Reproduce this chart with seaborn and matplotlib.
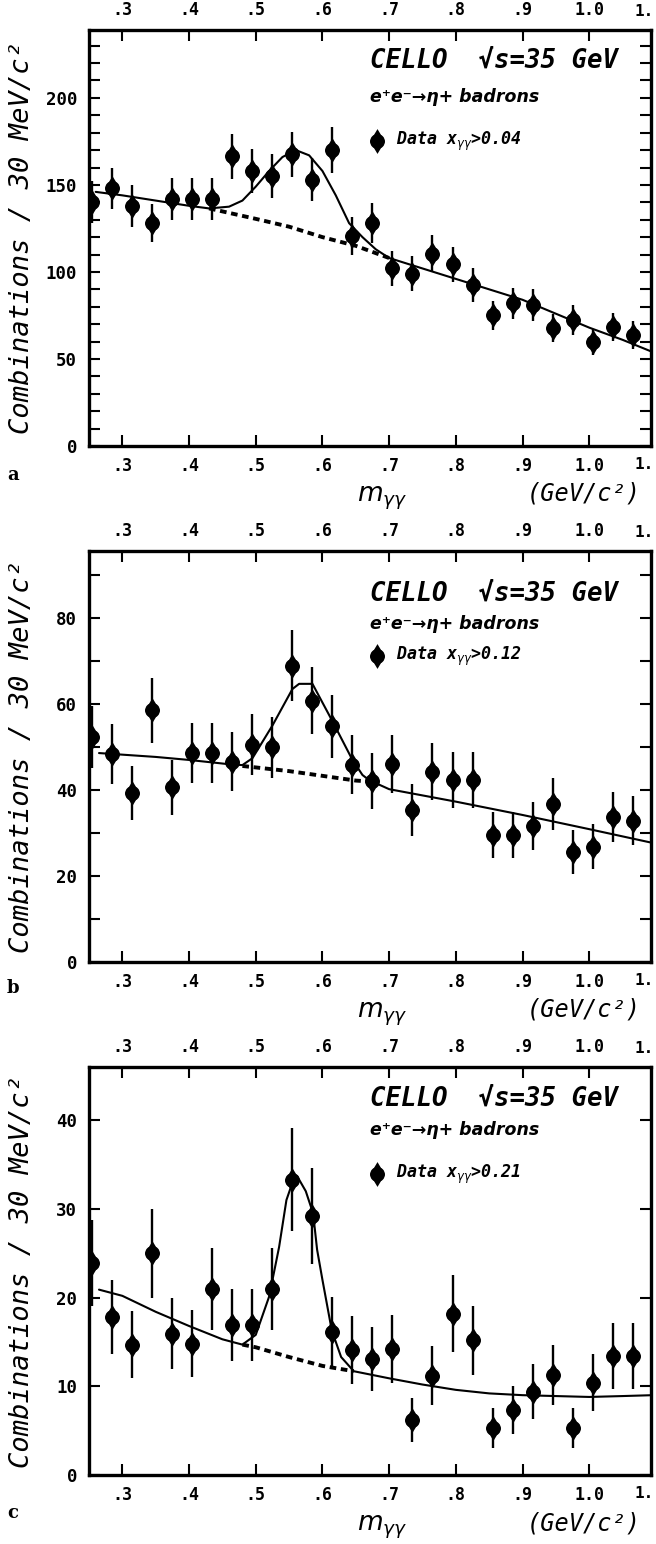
import numpy as np
import pandas as pd
import seaborn as sns
import matplotlib.pyplot as plt
from matplotlib.transforms import offset_copy, blended_transform_factory
from matplotlib.ticker import MultipleLocator, FixedLocator, FixedFormatter

sns.set_theme(style="ticks")
plt.rcParams['font.family'] = ['DejaVu Sans Mono', 'DejaVu Sans']
plt.rcParams['text.color'] = 'black'
plt.rcParams['axes.labelcolor'] = 'black'
plt.rcParams['xtick.color'] = 'black'
plt.rcParams['ytick.color'] = 'black'

# ---------------- data ----------------
mass = [0.255, 0.285, 0.315, 0.345, 0.375, 0.405, 0.435, 0.465, 0.495, 0.525,
        0.555, 0.585, 0.615, 0.645, 0.675, 0.705, 0.735, 0.765, 0.795, 0.825,
        0.855, 0.885, 0.915, 0.945, 0.975, 1.005, 1.035, 1.065]

counts_a = [140, 148, 138, 128, 142, 142, 142, 166.5, 158, 155,
            167.5, 153, 170, 120.5, 128, 102, 99, 110.5, 104.5, 92.5,
            75, 82, 81, 68, 72.5, 60, 68.5, 64]
err_a = [12, 12, 12, 11, 12, 12, 12, 13, 12.5, 12.5,
         13, 12.5, 13, 11, 11.5, 10, 10, 10.5, 10, 9.5,
         8.5, 9, 9, 8, 8.5, 7.5, 8, 8]

counts_b = [52.3, 48.4, 39.4, 58.5, 40.6, 48.7, 48.6, 46.6, 50.5, 50,
            68.9, 60.8, 54.8, 45.9, 42.2, 46.1, 35.4, 44.3, 42.4, 42.4,
            29.5, 29.5, 31.6, 36.8, 25.6, 26.8, 33.8, 32.9]
err_b = [7.2, 7, 6.3, 7.6, 6.4, 7, 7, 6.8, 7.1, 7.1,
         8.3, 7.8, 7.4, 6.8, 6.5, 6.8, 6, 6.7, 6.5, 6.5,
         5.4, 5.4, 5.6, 6.1, 5.1, 5.2, 5.8, 5.7]

counts_c = [23.9, 17.8, 14.7, 25, 15.9, 14.8, 21, 16.9, 16.9, 21,
            33.3, 29.2, 16.1, 14.1, 13.1, 14.2, 6.2, 11.2, 18.2, 15.2,
            5.3, 7.3, 9.4, 11.3, 5.3, 10.4, 13.4, 13.4]
err_c = [4.9, 4.2, 3.8, 5, 4, 3.8, 4.6, 4.1, 4.1, 4.6,
         5.8, 5.4, 4, 3.8, 3.6, 3.8, 2.5, 3.3, 4.3, 3.9,
         2.3, 2.7, 3.1, 3.4, 2.3, 3.2, 3.7, 3.7]

# fit curves (solid: signal+background, dashed: background under the peak)
fit_a_x = [0.26, 0.30, 0.35, 0.40, 0.43, 0.46, 0.48, 0.50, 0.52, 0.54, 0.56, 0.58,
           0.60, 0.62, 0.64, 0.66, 0.68, 0.70, 0.75, 0.80, 0.85, 0.90, 0.95, 1.00,
           1.05, 1.095]
fit_a_y = [146, 144, 141, 138, 136.5, 137.5, 141, 149, 158, 166, 170, 167,
           158, 144, 128, 120, 113, 108, 102, 96, 90, 84, 76, 68, 61, 54]
bg_a_x = [0.43, 0.50, 0.55, 0.60, 0.65, 0.70]
bg_a_y = [136.5, 130.5, 126, 120, 115, 108]

fit_b_x = [0.265, 0.35, 0.40, 0.46, 0.48, 0.495, 0.525, 0.555, 0.565, 0.585,
           0.615, 0.645, 0.66, 0.67, 0.70, 0.80, 0.90, 1.00, 1.095]
fit_b_y = [48.6, 47.7, 47, 46, 45.8, 47.4, 55, 63.5, 64.7, 64.7,
           56, 47, 43.5, 42.3, 40.2, 37.3, 34.2, 30.9, 27.7]
bg_b_x = [0.48, 0.55, 0.60, 0.65, 0.67]
bg_b_y = [45.6, 44.4, 43.3, 42.2, 42]

fit_c_x = [0.265, 0.30, 0.35, 0.40, 0.45, 0.48, 0.50, 0.52, 0.535, 0.546, 0.557,
           0.562, 0.575, 0.586, 0.592, 0.60, 0.614, 0.628, 0.647, 0.70, 0.75,
           0.80, 0.85, 0.90, 0.95, 1.00, 1.05, 1.095]
fit_c_y = [20.9, 20.2, 18.4, 16.8, 15.3, 14.7, 15.8, 20.1, 25.7, 31, 33.4,
           33.7, 32, 29.5, 25.4, 22, 16.3, 13.3, 11.7, 10.9, 10.2,
           9.6, 9.2, 9.0, 8.9, 8.8, 8.9, 9.0]
bg_c_x = [0.48, 0.50, 0.55, 0.60, 0.647]
bg_c_y = [14.7, 14.4, 13.3, 12.3, 11.7]

x_ticks = [0.3, 0.4, 0.5, 0.6, 0.7, 0.8, 0.9, 1.0]
x_ticklabels = ['.3', '.4', '.5', '.6', '.7', '.8', '.9', '1.0']
edge_ticklabel = '1.'          # what is visible of the 1.1 label at the right edge

cuts = ['0.04', '0.12', '0.21']
panel_letters = ['a', 'b', 'c']
y_max = [239, 95.6, 46]
y_major = [50, 20, 10]
y_minor = [10, 10, 10]

ylabel_text = 'Combinations / 30 MeV/c²'
title_text = 'CELLO  √s=35 GeV'
reaction_text = 'e⁺e⁻→η+ badrons'

# ---------------- layout ----------------
W, H = 656, 1544
fig = plt.figure(figsize=(W / 100, H / 100), dpi=100)

frames = [(30, 446), (551, 962), (1067, 1475)]   # top, bottom pixel rows
x_left, x_right = 89, 651
text_offsets = [(31, 67, 111), (43, 73, 105), (32, 63, 107)]
letter_rows = [475, 988, 1513]

series = [
    (counts_a, err_a, fit_a_x, fit_a_y, bg_a_x, bg_a_y),
    (counts_b, err_b, fit_b_x, fit_b_y, bg_b_x, bg_b_y),
    (counts_c, err_c, fit_c_x, fit_c_y, bg_c_x, bg_c_y),
]

PX = 0.72  # points per pixel at 100 dpi


def draw_marker(ax, x, y, **kw):
    sns.scatterplot(x=x, y=y, marker='o', s=115, color='black', edgecolor='black',
                    linewidth=0, ax=ax, zorder=3, legend=False, **kw)
    sns.scatterplot(x=x, y=y, marker='d', s=160, color='black', edgecolor='black',
                    linewidth=0, ax=ax, zorder=3, legend=False, **kw)


for i, (counts, errs, fx, fy, bx, by) in enumerate(series):
    top, bot = frames[i]
    rect = [x_left / W, 1 - bot / H, (x_right - x_left) / W, (bot - top) / H]
    ax = fig.add_axes(rect)
    ax.set_facecolor('white')

    df = pd.DataFrame({'m': mass, 'n': counts, 'e': errs})
    ax.errorbar(df['m'], df['n'], yerr=df['e'], fmt='none', ecolor='black',
                elinewidth=1.7, capsize=0, zorder=2)
    sns.lineplot(x=fx, y=fy, sort=False, estimator=None, color='black',
                 linewidth=1.5, ax=ax, zorder=2)
    sns.lineplot(x=bx, y=by, sort=False, estimator=None, color='black',
                 linewidth=2.8, linestyle=(0, (1.7, 1.2)), ax=ax, zorder=2)
    draw_marker(ax, df['m'], df['n'])

    ax.set_xlim(0.25, 1.0926)
    ax.set_ylim(0, y_max[i])
    ax.set_xlabel('')
    ax.set_ylabel('')

    ax.xaxis.set_major_locator(FixedLocator(x_ticks))
    ax.xaxis.set_major_formatter(FixedFormatter(x_ticklabels))
    ax.yaxis.set_major_locator(MultipleLocator(y_major[i]))
    ax.yaxis.set_minor_locator(MultipleLocator(y_minor[i]))
    ax.tick_params(axis='both', which='both', direction='in', top=True,
                   right=True, length=8, width=1.5, color='black')
    ax.tick_params(axis='x', which='both', labeltop=True, labelbottom=True,
                   pad=8, labelsize=12, labelcolor='black')
    ax.tick_params(axis='y', which='both', labelleft=True, pad=8.5, labelsize=12.5,
                   labelcolor='black')
    for t in ax.get_xticklabels(which='both') + ax.get_yticklabels():
        t.set_fontweight('bold')
    for tk in ax.xaxis.get_major_ticks():
        tk.label2.set_fontweight('bold')
    for sp in ax.spines.values():
        sp.set_linewidth(2.4)
        sp.set_color('black')

    # visible part of the 1.1 label at the right figure edge
    xfig = blended_transform_factory(fig.transFigure, ax.transAxes)
    ax.text(654 / W, 0, edge_ticklabel, transform=offset_copy(xfig, fig, y=-8, units='points'),
            ha='right', va='top', fontsize=11.5, fontweight='bold', clip_on=False)
    ax.text(654 / W, 1, edge_ticklabel, transform=offset_copy(xfig, fig, y=8, units='points'),
            ha='right', va='bottom', fontsize=11.5, fontweight='bold', clip_on=False)

    # annotations
    o1, o2, o3 = text_offsets[i]
    ax.text(0.5, 1, title_text, transform=offset_copy(ax.transAxes, fig, y=-o1 * PX, units='points'),
            ha='left', va='center', fontsize=18.5, fontstyle='oblique', fontweight='bold')
    ax.text(0.5, 1, reaction_text, transform=offset_copy(ax.transAxes, fig, y=-o2 * PX, units='points'),
            ha='left', va='center', fontsize=12.5, fontstyle='oblique', fontweight='bold',
            family=['DejaVu Sans', 'DejaVu Sans Mono'])
    ltr = offset_copy(ax.transAxes, fig, y=-o3 * PX, units='points')
    draw_marker(ax, [0.512], [1], transform=ltr, clip_on=False)
    ax.text(0.546, 1, 'Data x$_{\\gamma\\gamma}$>' + cuts[i], transform=ltr,
            ha='left', va='center', fontsize=12, fontstyle='oblique', fontweight='bold')

    # x axis label pieces
    ax.text(0.521, 0, r'$\mathit{m}_{\gamma\gamma}$',
            transform=offset_copy(ax.transAxes, fig, y=-52 * PX, units='points'),
            ha='center', va='center', fontsize=19)
    ax.text(0.88, 0, '(GeV/c²)',
            transform=offset_copy(ax.transAxes, fig, y=-48 * PX, units='points'),
            ha='center', va='center', fontsize=17, fontstyle='oblique')

    # y label and panel letter
    fig.text(22 / W, 1 - (top + bot) / 2 / H, ylabel_text, rotation=90,
             ha='center', va='center', fontsize=19.5, fontstyle='oblique')
    fig.text(13 / W, 1 - letter_rows[i] / H, panel_letters[i], ha='center', va='center',
             fontsize=13, fontweight='bold', family='DejaVu Serif')

fig.savefig('out.png', dpi=100, facecolor='white')
